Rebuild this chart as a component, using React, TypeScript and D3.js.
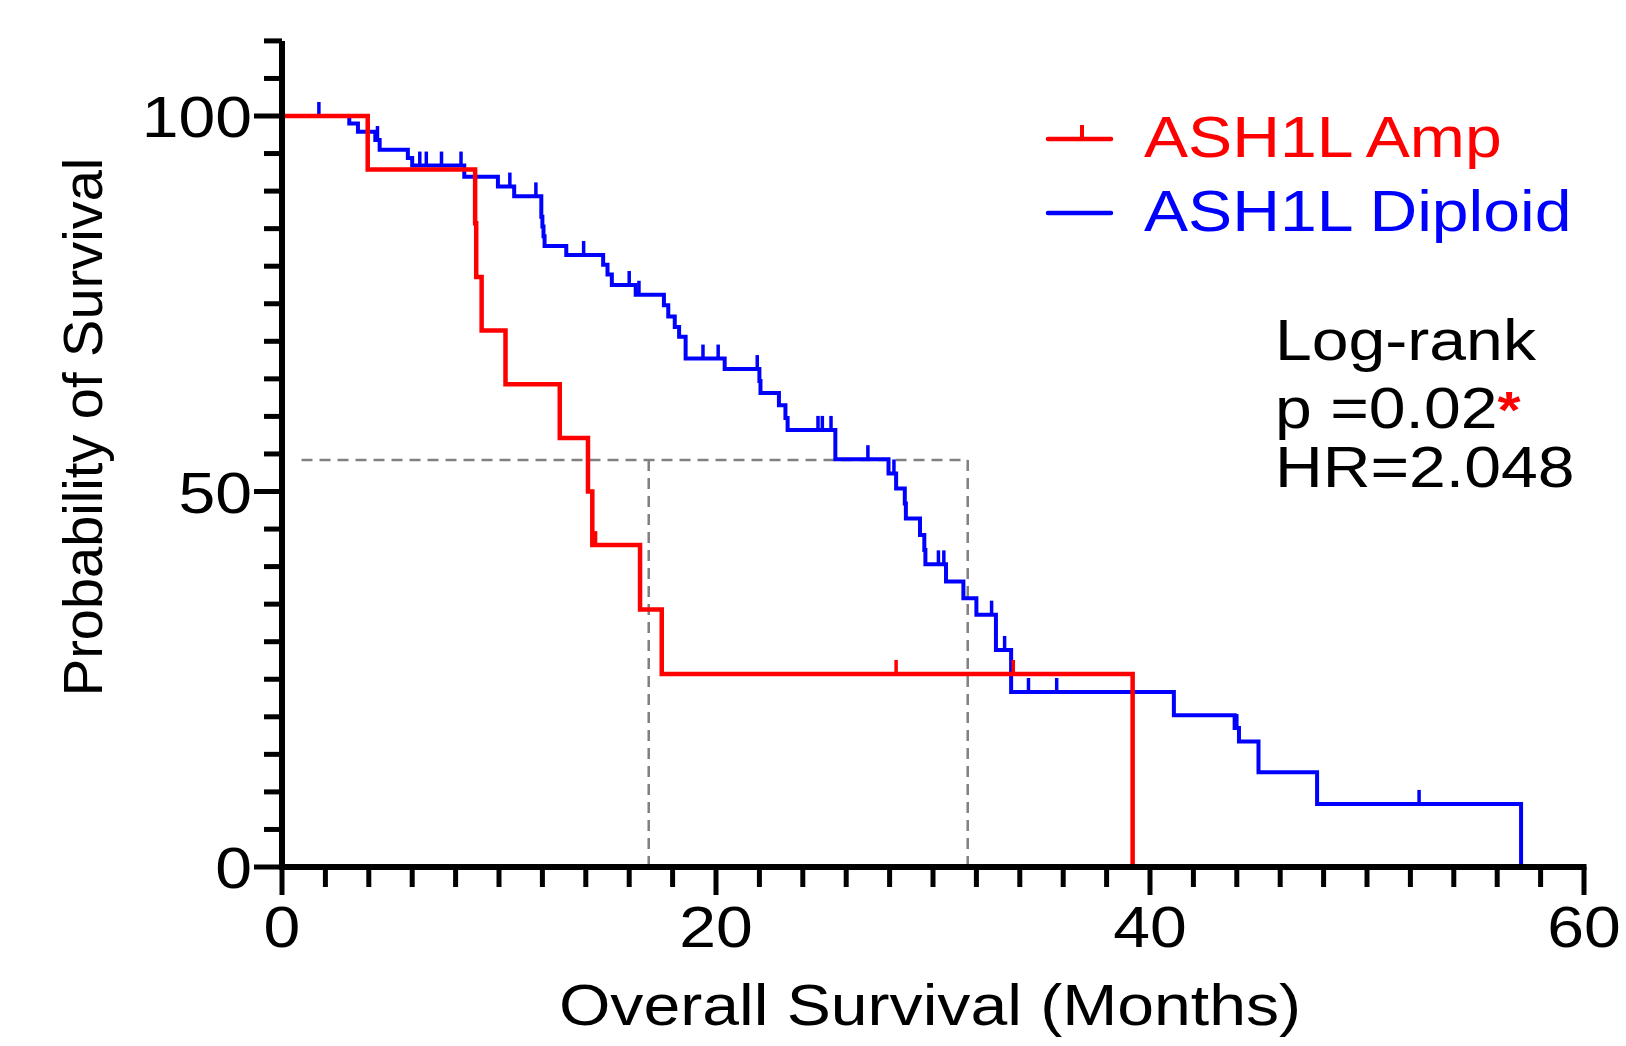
import React from "react";
import * as d3 from "d3";

// Kaplan-Meier steps (months, % surviving after the step)
const ampTimes = [0, 3.95, 8.9, 8.95, 9.2, 10.3, 12.8, 14.1, 14.3, 16.5, 17.5, 39.2];
const ampSurv = [100, 92.86, 85.71, 78.57, 71.43, 64.29, 57.14, 50.0, 42.86, 34.29, 25.71, 0];
const ampCensorTimes = [14.45, 28.3, 33.7];
const ampCensorSurv = [42.86, 25.71, 25.71];

const dipTimes = [0, 3.1, 3.5, 4.3, 4.5, 5.8, 6.0, 8.4, 9.95, 10.7, 11.95, 12.0, 12.05, 12.1, 13.1, 14.8, 15.0, 15.2, 16.3, 17.6, 17.8, 18.1, 18.3, 18.6, 20.4, 22.0, 22.05, 22.9, 23.2, 23.3, 25.5, 27.95, 28.3, 28.7, 28.75, 29.4, 29.6, 29.65, 30.6, 31.4, 32.0, 32.9, 33.6, 41.1, 43.9, 44.1, 45.0, 47.7, 57.1];
const dipSurv = [100, 99.0, 97.9, 96.8, 95.5, 94.4, 93.4, 91.9, 90.6, 89.3, 86.6, 85.3, 84.0, 82.7, 81.5, 80.2, 78.9, 77.5, 76.2, 74.8, 73.3, 71.9, 70.6, 67.7, 66.3, 64.7, 63.1, 61.5, 59.8, 58.2, 54.3, 52.4, 50.4, 48.4, 46.4, 44.2, 42.2, 40.3, 38.0, 35.8, 33.6, 28.9, 23.3, 20.2, 18.5, 16.7, 12.6, 8.4, 0];
const dipCensorTimes = [1.7, 4.4, 6.35, 6.65, 7.35, 8.25, 10.5, 11.7, 13.9, 16.0, 16.45, 19.4, 20.1, 21.9, 24.7, 24.9, 25.3, 27.0, 28.2, 30.25, 30.5, 32.7, 33.3, 34.4, 35.7, 44.0, 52.4];
const dipCensorSurv = [100, 96.8, 93.4, 93.4, 93.4, 93.4, 90.6, 89.3, 81.5, 77.5, 76.2, 67.7, 67.7, 66.3, 58.2, 58.2, 58.2, 54.3, 52.4, 40.3, 40.3, 33.6, 28.9, 23.3, 23.3, 18.5, 8.4];

// median guide lines
const guideLevel = 54.2;
const guideStart = 0.9;
const guideTimes = [16.9, 31.6];

const xMajor = [0, 20, 40, 60];
const yMajor = [0, 50, 100];
const seriesNames = ["ASH1L Amp", "ASH1L Diploid"];
const statLines = ["Log-rank", "p =0.02", "HR=2.048"];

const RED = "#ff0000";
const BLUE = "#0000ff";
const FONT = "'Liberation Sans', Arial, Helvetica, sans-serif";
const SX = 1.14; // the original text is a bit wide

export default function App() {
  const width = 1626;
  const height = 1046;
  const x = d3.scaleLinear().domain([0, 60]).range([282, 1584]);
  const y = d3.scaleLinear().domain([0, 100]).range([867, 116]);

  const line = d3
    .line<[number, number]>()
    .x((d) => x(d[0]))
    .y((d) => y(d[1]))
    .curve(d3.curveStepAfter);

  const ampPath = line(ampTimes.map((t, i) => [t, ampSurv[i]] as [number, number])) || "";
  const dipPath = line(dipTimes.map((t, i) => [t, dipSurv[i]] as [number, number])) || "";

  const yTicks = d3.range(0, 111, 5);
  const xTicks = d3.range(0, 61, 2);
  const censorH = 14;

  const txt = (s: string, tx: number, ty: number, anchor: string, fill = "#000", size = 58) => (
    <text
      transform={`translate(${tx},${ty}) scale(${SX},1)`}
      textAnchor={anchor}
      fontSize={size}
      fill={fill}
      fontFamily={FONT}
    >
      {s}
    </text>
  );

  return (
    <svg
      width={width}
      height={height}
      style={{ position: "absolute", left: 0, top: 0, background: "#fff" }}
    >
      {/* median guides */}
      <g stroke="#808080" strokeWidth={2.5} strokeDasharray="11,7" fill="none">
        <line x1={x(guideStart)} x2={x(guideTimes[1])} y1={y(guideLevel)} y2={y(guideLevel)} />
        {guideTimes.map((t) => (
          <line key={t} x1={x(t)} x2={x(t)} y1={y(guideLevel)} y2={y(0)} />
        ))}
      </g>

      {/* curves */}
      <path d={dipPath} fill="none" stroke={BLUE} strokeWidth={4} />
      {dipCensorTimes.map((t, i) => (
        <line key={"bc" + i} x1={x(t)} x2={x(t)} y1={y(dipCensorSurv[i])} y2={y(dipCensorSurv[i]) - censorH} stroke={BLUE} strokeWidth={3.5} />
      ))}
      <path d={ampPath} fill="none" stroke={RED} strokeWidth={4.5} />
      {ampCensorTimes.map((t, i) => (
        <line key={"rc" + i} x1={x(t)} x2={x(t)} y1={y(ampCensorSurv[i])} y2={y(ampCensorSurv[i]) - censorH} stroke={RED} strokeWidth={3.5} />
      ))}

      {/* y axis */}
      <line x1={x(0)} x2={x(0)} y1={y(0) + 3} y2={y(110)} stroke="#000" strokeWidth={6} />
      {yTicks.map((v) => (
        <line key={"yt" + v} x1={x(0)} x2={x(0) - (yMajor.includes(v) ? 28 : 18)} y1={y(v)} y2={y(v)} stroke="#000" strokeWidth={5} />
      ))}
      {yMajor.map((v) => (
        <React.Fragment key={"yl" + v}>{txt(String(v), 252, y(v) + 21, "end")}</React.Fragment>
      ))}

      {/* x axis */}
      <line x1={x(0) - 3} x2={x(60) + 2.5} y1={y(0)} y2={y(0)} stroke="#000" strokeWidth={6} />
      {xTicks.map((v) => (
        <line key={"xt" + v} x1={x(v)} x2={x(v)} y1={y(0)} y2={y(0) + (xMajor.includes(v) ? 28 : 20)} stroke="#000" strokeWidth={5} />
      ))}
      {xMajor.map((v) => (
        <React.Fragment key={"xl" + v}>{txt(String(v), x(v), 947, "middle")}</React.Fragment>
      ))}

      {/* axis titles */}
      {txt("Overall Survival (Months)", 930, 1025, "middle")}
      <text
        transform="translate(102,427) rotate(-90)"
        textAnchor="middle"
        fontSize={56}
        fontFamily={FONT}
        fill="#000"
      >
        Probability of Survival
      </text>

      {/* legend */}
      <line x1={1048} x2={1111} y1={139} y2={139} stroke={RED} strokeWidth={4.5} strokeLinecap="round" />
      <line x1={1082} x2={1082} y1={139} y2={125} stroke={RED} strokeWidth={4} />
      {txt(seriesNames[0], 1144, 157, "start", RED)}
      <line x1={1048} x2={1111} y1={213} y2={213} stroke={BLUE} strokeWidth={4.5} strokeLinecap="round" />
      {txt(seriesNames[1], 1144, 231, "start", BLUE)}

      {/* stats */}
      {txt(statLines[0], 1275, 360, "start")}
      <text transform={`translate(1275,428) scale(${SX},1)`} fontSize={58} fontFamily={FONT} fill="#000">
        {statLines[1]}
        <tspan fill={RED} fontWeight="bold" fontSize={52}>*</tspan>
      </text>
      {txt(statLines[2], 1275, 487, "start")}
    </svg>
  );
}
